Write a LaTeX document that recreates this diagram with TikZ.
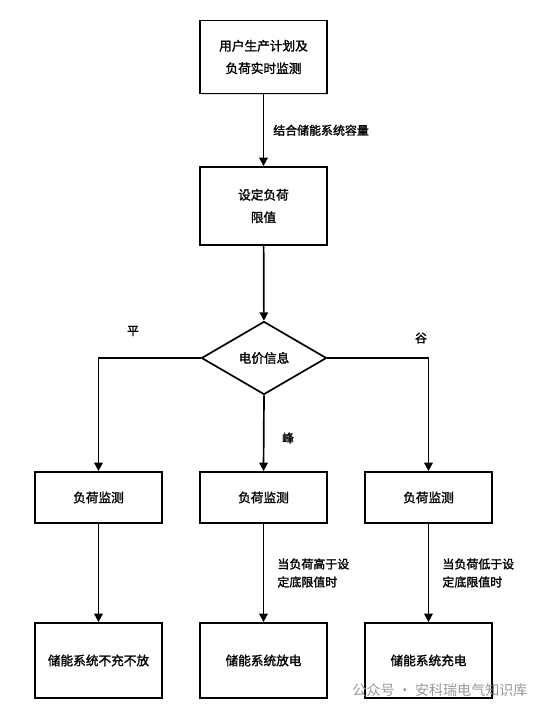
\documentclass[tikz,border=0pt]{standalone}
\usepackage{fontspec}
\newfontfamily\cjk[FakeBold=1.6]{Noto Sans CJK SC}
\newfontfamily\cjkmark{Noto Sans CJK SC}
\usetikzlibrary{shapes.geometric,arrows.meta,shadows}
\tikzset{
  box/.style={draw,line width=1.2pt,fill=white,minimum width=3.175cm,align=center,
    font=\cjk\fontsize{9pt}{16pt}\selectfont,drop shadow={opacity=0.25,shadow xshift=0.6pt,shadow yshift=-0.8pt}},
  decide/.style={draw,diamond,line width=1.2pt,fill=white,minimum width=3.125cm,minimum height=1.825cm,
    inner sep=0pt,aspect=1.7,font=\cjk\fontsize{9pt}{11pt}\selectfont},
  lbl/.style={font=\cjk\fontsize{8.5pt}{12.8pt}\selectfont,align=left},
  line/.style={line width=1.2pt}
}
\begin{document}
\begin{tikzpicture}[x=0.025cm,y=-0.025cm,>={Triangle[length=6pt,width=6pt]}]
	\useasboundingbox[fill=white] (0,0) rectangle (550,710);
	% top of the chart
	\node[box,minimum height=1.825cm] (plan) at (263.5,57) {用户生产计划及\\负荷实时监测};
	\node[box,minimum height=1.95cm] (limit) at (263.5,206) {设定负荷\\限值};
	\node[decide] (price) at (264,358) {电价信息};
	% three branches
	\node[box,minimum height=1.275cm] (monA) at (98.5,497.5) {负荷监测};
	\node[box,minimum height=1.275cm] (monB) at (263.5,497.5) {负荷监测};
	\node[box,minimum height=1.275cm] (monC) at (428.5,497.5) {负荷监测};
	\node[box,minimum height=1.875cm] (idle) at (98.5,660.5) {储能系统不充不放};
	\node[box,minimum height=1.875cm] (dis) at (263.5,660.5) {储能系统放电};
	\node[box,minimum height=1.875cm] (chg) at (428.5,660.5) {储能系统充电};
	% connectors
	\draw[line,->] (plan) -- node[lbl,right=3pt]{结合储能系统容量} (limit);
	\draw[line,->] (limit) -- (price);
	\draw[line,->] (price.west) -| (monA.north);
	\draw[line,->] (price.east) -| (monC.north);
	\draw[line,->] (price.south) -- (monB.north);
	\draw[line,->] (monA) -- (idle);
	\draw[line,->] (monB) -- node[lbl,right=6pt]{当负荷高于设\\定底限值时} (dis);
	\draw[line,->] (monC) -- node[lbl,right=6pt]{当负荷低于设\\定底限值时} (chg);
	% price labels
	\node[lbl] (flat) at (133,331) {平};
	\node[lbl] (peak) at (288,438) {峰};
	\node[lbl] (low) at (421,338) {谷};
	\node[font=\cjkmark\fontsize{10pt}{12pt}\selectfont,text=black!40] (mark) at (440,690) {公众号 · 安科瑞电气知识库};
\end{tikzpicture}
\end{document}
